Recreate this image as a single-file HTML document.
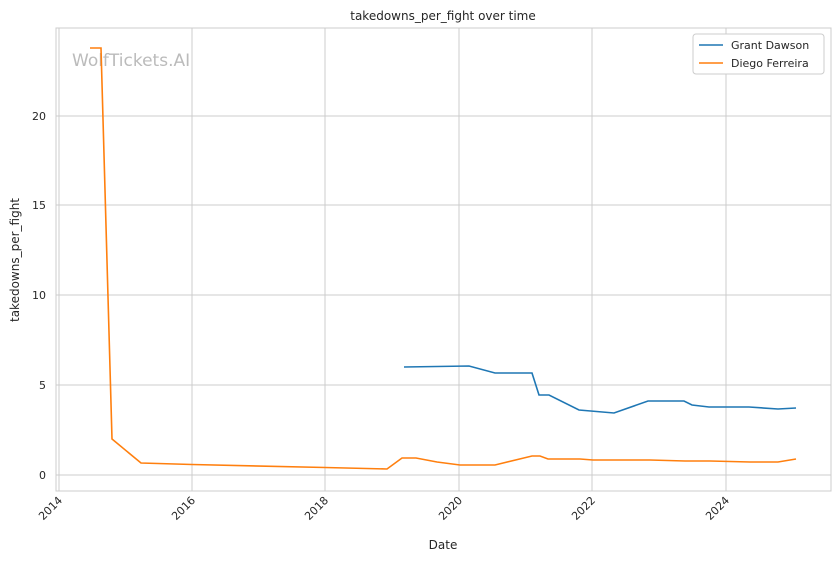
<!DOCTYPE html>
<html><head><meta charset="utf-8"><style>body{margin:0;background:#fff}svg{display:block;font-family:"DejaVu Sans","Liberation Sans",sans-serif}</style></head><body>
<svg width="840" height="561" viewBox="0 0 840 561">
<rect width="840" height="561" fill="#fff"/>
<g stroke="#cccccc" stroke-width="1">
<line x1="59" y1="28" x2="59" y2="491"/><line x1="192" y1="28" x2="192" y2="491"/><line x1="325" y1="28" x2="325" y2="491"/><line x1="459" y1="28" x2="459" y2="491"/><line x1="592" y1="28" x2="592" y2="491"/><line x1="726" y1="28" x2="726" y2="491"/>
<line x1="56" y1="475" x2="831" y2="475"/><line x1="56" y1="385" x2="831" y2="385"/><line x1="56" y1="295" x2="831" y2="295"/><line x1="56" y1="205" x2="831" y2="205"/><line x1="56" y1="116" x2="831" y2="116"/>
<rect x="56" y="28" width="775" height="463" fill="none"/>
</g>
<text x="72" y="66" font-size="17" fill="#bbbbbb">WolfTickets.AI</text>
<polyline fill="none" stroke="#1f77b4" stroke-width="1.6" points="404,367 469,366 495,373 532,373 539,395 549,395 579,410 614,413 648,401 684,401 692,405 709,407 749,407 778,409 796,408"/>
<polyline fill="none" stroke="#ff7f0e" stroke-width="1.6" points="90,48 101,48 112,439 141,463 192,464.5 325,467.5 387,469 402,458 416,458 437,462 460,465 495,465 532,456 540,456 548,459 580,459 593,460 650,460 685,461 710,461 750,462 778,462 796,459"/>
<g font-size="11" fill="#262626" text-anchor="end">
<text x="46" y="479">0</text><text x="46" y="389">5</text><text x="46" y="299">10</text><text x="46" y="209">15</text><text x="46" y="120">20</text>
</g>
<g font-size="11" fill="#262626" text-anchor="end">
<text transform="translate(63,501) rotate(-45)">2014</text><text transform="translate(196,501) rotate(-45)">2016</text><text transform="translate(329,501) rotate(-45)">2018</text><text transform="translate(463,501) rotate(-45)">2020</text><text transform="translate(596,501) rotate(-45)">2022</text><text transform="translate(730,501) rotate(-45)">2024</text>
</g>
<text x="443" y="549" font-size="12" fill="#262626" text-anchor="middle">Date</text>
<text transform="translate(19,260) rotate(-90)" font-size="12" fill="#262626" text-anchor="middle">takedowns_per_fight</text>
<text x="443" y="20" font-size="12" fill="#262626" text-anchor="middle">takedowns_per_fight over time</text>
<rect x="693" y="34" width="131" height="40" rx="3" fill="#fff" stroke="#cccccc"/>
<line x1="699" y1="45" x2="723" y2="45" stroke="#1f77b4" stroke-width="1.6"/>
<line x1="699" y1="63" x2="723" y2="63" stroke="#ff7f0e" stroke-width="1.6"/>
<text x="731" y="49" font-size="11" fill="#262626">Grant Dawson</text>
<text x="731" y="67" font-size="11" fill="#262626">Diego Ferreira</text>
</svg>
</body></html>
